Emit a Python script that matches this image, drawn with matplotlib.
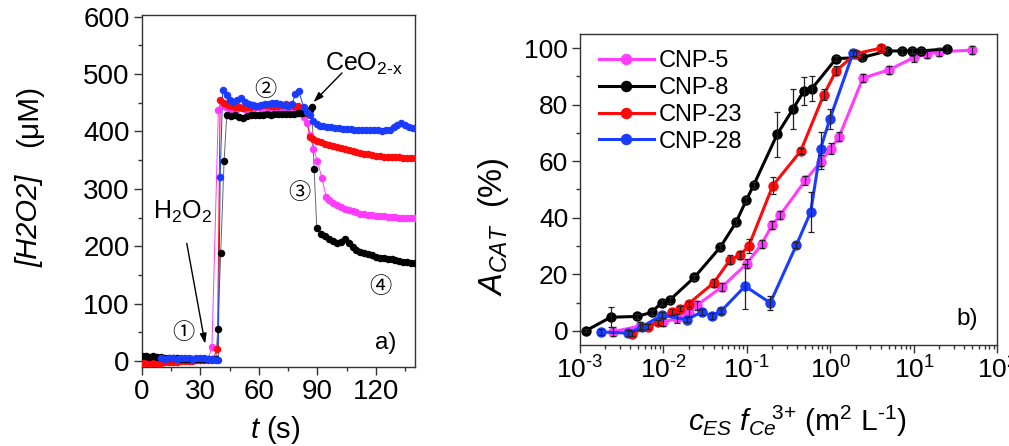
import math
import matplotlib
matplotlib.use("Agg")
import matplotlib.pyplot as plt
from matplotlib.ticker import MultipleLocator, LogLocator, NullFormatter, FuncFormatter

plt.rcParams["font.family"] = ["Liberation Sans", "DejaVu Sans"]
plt.rcParams["mathtext.fontset"] = "custom"
plt.rcParams["mathtext.rm"] = "Liberation Sans"
plt.rcParams["mathtext.it"] = "Liberation Sans:italic"
plt.rcParams["mathtext.bf"] = "Liberation Sans:bold"

# ---------------------------------------------------------------------------
# Panel a) : [H2O2] vs time
# ---------------------------------------------------------------------------
t_blk = [0, 2, 4, 6, 8, 10, 12, 14, 16, 18, 20, 22, 24, 26, 28, 30, 32, 34, 36, 38,
         39, 40.5, 42.2, 43.6,
         46, 48, 50, 52, 54, 56, 58, 60, 62, 64, 66, 68, 70, 72, 74, 76, 78, 80, 82, 84, 86,
         87.2, 88.3, 89.7,
         92, 94, 96, 98, 100, 102, 104, 106, 108, 110, 112, 114, 116, 118, 120, 122, 124,
         126, 128, 130, 132, 134, 136, 138, 140]
h_blk = [8, 8, 7, 8, 7, 7, 6, 5, 5, 5, 4, 4, 4, 4, 3, 3, 3, 3, 3, 4,
         55, 188, 348, 428,
         427, 428, 425, 423, 427, 428, 428, 429, 428, 430, 429, 430, 430, 431, 430, 430, 431,
         432, 433, 434, 437,
         442, 335, 232,
         222, 218, 213, 209, 205, 208, 213, 205, 198, 193, 190, 188, 186, 184, 182, 180, 179,
         178, 177, 176, 174, 173, 172, 171, 170]

t_mag = [0, 2, 4, 6, 8, 10, 12, 14, 16, 18, 20, 22, 24, 26, 28, 30, 32, 34,
         36, 39.3,
         41, 43, 45, 47, 49, 51, 53, 55, 57, 59, 61, 63, 65, 67, 69, 71, 73, 75, 77, 79, 81, 83,
         84.6, 86.3, 88, 90, 92.3, 94.5,
         96, 98, 100, 102, 104, 106, 108, 110, 112, 114, 116, 118, 120, 122, 124, 126, 128,
         130, 132, 134, 136, 138, 140]
h_mag = [3, 3, 3, 2, 2, 2, 2, 2, 2, 2, 2, 2, 1, 1, 1, 1, 2, 2,
         25, 438,
         445, 442, 440, 438, 440, 441, 440, 439, 440, 442, 441, 440, 441, 442, 441, 440, 441,
         442, 440, 438, 432, 425,
         415, 393, 370, 348, 319, 286,
         280, 275, 271, 268, 265, 263, 261, 259, 257, 256, 255, 254, 253, 252, 252, 251, 251,
         251, 250, 250, 250, 250, 250]

t_red = [0, 2, 4, 6, 8, 10, 12, 14, 16, 18, 20, 22, 24, 26, 28, 30, 32, 34, 36,
         38.8, 40.2, 42, 44,
         46, 48, 50, 52, 54, 56, 58, 60, 62, 64, 66, 68, 70, 72, 74, 76, 78, 80, 82, 84,
         86.3, 88, 90,
         92, 94, 96, 98, 100, 102, 104, 106, 108, 110, 112, 114, 116, 118, 120, 122, 124,
         126, 128, 130, 132, 134, 136, 138, 140]
h_red = [-3, -3, -3, -3, -3, -3, -2, -2, -1, -1, 0, 0, 0, 0, 1, 1, 1, 1, 2,
         20, 454, 450, 446,
         444, 443, 442, 441, 442, 443, 444, 445, 446, 446, 445, 444, 445, 446, 447, 446, 445,
         444, 441, 432,
         390, 387, 384,
         381, 379, 377, 375, 373, 371, 370, 368, 366, 364, 363, 361, 360, 359, 358, 357, 356,
         356, 355, 355, 355, 354, 354, 354, 354]

t_blu = [10, 12, 14, 16, 18, 20, 22, 24, 26, 28, 30, 32, 34, 36, 38,
         39.2, 40.2, 41.5, 43.6,
         45, 47, 49, 51, 53, 55, 57, 59, 61, 63, 65, 67, 69, 71, 73, 75, 77,
         78.7, 80.4, 82.9, 84.6, 86.3, 88, 90, 91.4,
         93, 95, 97, 99, 101, 103, 105, 107, 109, 111, 113, 115, 117, 119, 121, 123, 125,
         127, 129, 131, 133, 135, 137, 139]
h_blu = [5, 4, 5, 5, 4, 5, 6, 5, 4, 5, 6, 5, 4, 3, 2,
         1, 320, 473, 463,
         455, 452, 455, 458, 452, 448, 446, 444, 446, 448, 447, 449, 450, 448, 446, 444, 447,
         465, 471, 443, 434, 428, 419, 413, 410,
         409, 408, 407, 406, 406, 405, 404, 404, 403, 403, 403, 402, 402, 402, 402, 401, 402,
         403, 407, 412, 414, 411, 408, 406]

# ---------------------------------------------------------------------------
# Panel b) : catalase activity vs c_ES f_Ce3+
# ---------------------------------------------------------------------------
x5 = [0.0025, 0.0052, 0.0100, 0.0145, 0.020, 0.025, 0.050, 0.100, 0.150, 0.200, 0.250,
      0.50, 0.76, 1.01, 1.27, 2.45, 5.0, 10, 14.4, 20, 50]
y5 = [-0.3, 1.7, 3.1, 4.4, 6.3, 9.0, 15.5, 23.8, 30.7, 37.4, 41.0,
      53.2, 59.8, 64.4, 68.7, 89.4, 92.3, 96.7, 97.9, 98.7, 99.3]
e5 = [1.5, 1.5, 1.5, 1.5, 1.5, 1.5, 1.5, 1.5, 1.5, 1.5, 1.5,
      1.5, 2.5, 2.0, 1.5, 1.5, 1.5, 1.5, 1.5, 1.5, 1.5]

x8 = [0.00117, 0.00233, 0.0048, 0.0072, 0.0095, 0.012, 0.0234, 0.048, 0.074, 0.098, 0.12,
      0.23, 0.355, 0.48, 0.60, 1.17, 2.4, 4.8, 7.2, 9.5, 12, 24.6]
y8 = [0, 4.8, 5.1, 6.5, 10, 11, 18.9, 29.6, 38.4, 46.2, 51.5,
      69.5, 78.4, 84.9, 85.7, 96.3, 96.7, 99, 99, 99, 99, 99.7]
e8 = [0.5, 3.5, 1, 1, 1, 1, 1, 1, 1, 1, 1,
      8, 7, 5, 4.5, 1, 1, 1, 1, 1, 1, 1]

x23 = [0.0042, 0.0065, 0.0085, 0.0126, 0.0158, 0.020, 0.040, 0.063, 0.083, 0.105, 0.204,
       0.44, 0.83, 1.17, 2.0, 4.0]
y23 = [-1, 1.5, 3, 6.7, 7.9, 9.6, 17, 25.2, 26.8, 30, 51.4,
       63.6, 83.5, 92, 98, 100]
e23 = [1, 1, 1, 1, 1, 1, 1.5, 1.5, 1.5, 2.5, 3,
       1, 2, 1.5, 1, 1]

x28 = [0.0018, 0.0038, 0.0055, 0.0095, 0.019, 0.029, 0.038, 0.049, 0.095, 0.19, 0.39,
       0.58, 0.76, 0.98, 1.86]
y28 = [-0.4, -0.8, 1.4, 5.5, 4, 6.7, 5.2, 7, 15.8, 9.9, 30.3,
       42.1, 64.4, 74.8, 98.2]
e28 = [1, 1, 1, 1, 1, 1, 1, 1, 8, 2.5, 1,
       7, 6, 3.5, 1]

labels = ["CNP-5", "CNP-8", "CNP-23", "CNP-28"]
C_MAG = "#ff3cff"
C_BLK = "#000000"
C_RED = "#ff0a0a"
C_BLU = "#1a3cff"
SPINE = "#333333"


def log_fmt(v, pos):
    """10^n label with a plain hyphen for negative exponents."""
    e = int(round(math.log10(v)))
    s = str(e).replace("-", r"\text{-}")
    return r"$\mathdefault{10^{%s}}$" % s


# ---------------------------------------------------------------------------
fig = plt.figure(figsize=(10.09, 4.46), dpi=100)
axa = fig.add_axes([0.1404, 0.1778, 0.2709, 0.7886])
axb = fig.add_axes([0.5748, 0.2265, 0.4138, 0.6973])

for ax in (axa, axb):
    for s in ax.spines.values():
        s.set_color(SPINE)
        s.set_linewidth(1.0)
    ax.tick_params(which="major", direction="out", length=5.5, width=1, color=SPINE)
    ax.tick_params(which="minor", direction="out", length=3, width=1, color=SPINE)

# ---- panel a ----
for t, h, c in [(t_mag, h_mag, C_MAG), (t_red, h_red, C_RED),
                (t_blk, h_blk, C_BLK), (t_blu, h_blu, C_BLU)]:
    lc = "#666666" if c == C_BLK else c
    axa.plot(t, h, "-", color=lc, lw=0.7, zorder=2)
    axa.plot(t, h, "o", color=c, ms=5.4, mec="none", zorder=3)

axa.set_xlim(0, 140)
axa.set_ylim(-10, 603)
axa.xaxis.set_major_locator(MultipleLocator(30))
axa.xaxis.set_minor_locator(MultipleLocator(15))
axa.yaxis.set_major_locator(MultipleLocator(100))
axa.yaxis.set_minor_locator(MultipleLocator(50))
axa.tick_params(labelsize=20, pad=3)
axa.set_xlabel(r"$\mathit{t}$ (s)", fontsize=21)
axa.xaxis.set_label_coords(0.49, -0.135)
# y label in two pieces: italic bracket term, upright unit
axa.text(-0.41, 0.415, "[H2O2]", transform=axa.transAxes, rotation=90,
         fontsize=21, fontstyle="italic", ha="center", va="center")
axa.text(-0.41, 0.712, "(μM)", transform=axa.transAxes, rotation=90,
         fontsize=21.5, ha="center", va="center")

circ = ["Noto Sans CJK JP", "DejaVu Sans"]
axa.text(21.3, 50, "①", family=circ, fontsize=16, ha="center", va="center")
axa.text(63.2, 474, "②", family=circ, fontsize=16, ha="center", va="center")
axa.text(80.7, 294, "③", family=circ, fontsize=16, ha="center", va="center")
axa.text(122.2, 129, "④", family=circ, fontsize=16, ha="center", va="center")

axa.text(21, 260, r"H$_2$O$_2$", fontsize=18, ha="center", va="center")
axa.annotate("", xy=(32.5, 30), xytext=(23.1, 205),
             arrowprops=dict(arrowstyle="-|>,head_width=0.2,head_length=0.6",
                             color="k", lw=1.0, shrinkA=0, shrinkB=0))
axa.text(114, 518, r"CeO$_{\text{2-x}}$", fontsize=18, ha="center", va="center")
axa.annotate("", xy=(88, 451), xytext=(102.6, 502),
             arrowprops=dict(arrowstyle="-|>,head_width=0.2,head_length=0.6",
                             color="k", lw=1.0, shrinkA=0, shrinkB=0))
axa.text(0.894, 0.067, "a)", transform=axa.transAxes, fontsize=17.5,
         ha="center", va="center")

# ---- panel b ----
series = [(x5, y5, e5, C_MAG), (x8, y8, e8, C_BLK),
          (x23, y23, e23, C_RED), (x28, y28, e28, C_BLU)]
for (x, y, e, c), lab in zip(series, labels):
    axb.plot(x, y, "-o", color=c, lw=2.2, ms=7.5, mec="none", label=lab, zorder=3)
    axb.errorbar(x, y, yerr=e, fmt="none", ecolor="#222222", elinewidth=0.9,
                 capsize=2.5, capthick=0.9, zorder=4)

axb.set_xscale("log")
axb.set_xlim(1e-3, 1e2)
axb.set_ylim(-5, 105)
axb.xaxis.set_major_locator(LogLocator(base=10, numticks=10))
axb.xaxis.set_major_formatter(FuncFormatter(log_fmt))
axb.xaxis.set_minor_locator(LogLocator(base=10, subs=range(2, 10), numticks=20))
axb.xaxis.set_minor_formatter(NullFormatter())
axb.yaxis.set_major_locator(MultipleLocator(20))
axb.yaxis.set_minor_locator(MultipleLocator(10))
axb.tick_params(labelsize=19, pad=3)
axb.set_ylabel(r"$\mathit{A}_{\mathit{CAT}}$  (%)", fontsize=23.5)
axb.set_xlabel(r"$\mathit{c}_{\mathit{ES}}\ \mathit{f}_{\mathit{Ce}}\!{}^{\mathit{3}{+}}$"
               r" (m$^{2}$ L$^{\text{-}1}$)", fontsize=21.5)
axb.yaxis.set_label_coords(-0.165, 0.38)
axb.xaxis.set_label_coords(0.52, -0.19)
axb.text(0.927, 0.085, "b)", transform=axb.transAxes, fontsize=17.5,
         ha="center", va="center")

axb.legend(loc="upper left", bbox_to_anchor=(0.045, 0.947), frameon=False,
           fontsize=17, handlelength=2.33, handletextpad=0.2, labelspacing=0.2,
           borderpad=0, borderaxespad=0, markerscale=1.1)

fig.savefig("out.png", dpi=100, facecolor="white")
